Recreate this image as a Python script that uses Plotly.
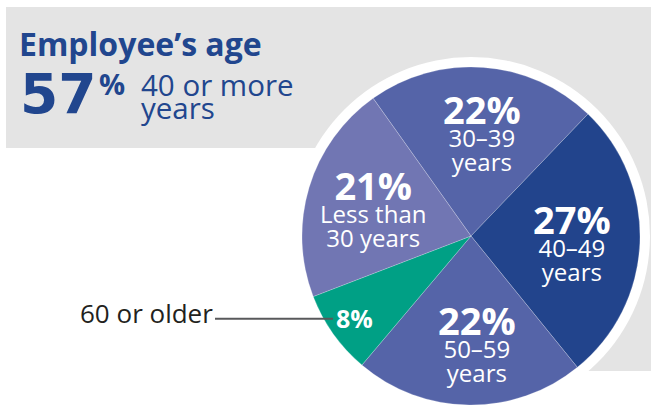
import math
import plotly.graph_objects as go

# ---- data ----
slice_labels = ["30–39 years", "40–49 years", "50–59 years", "60 or older", "Less than 30 years"]
slice_values = [22, 27, 22, 8, 21]
pct_text = ["22%", "27%", "22%", "8%", "21%"]
line1_text = ["30–39", "40–49", "50–59", "", "Less than"]
line2_text = ["years", "years", "years", "", "30 years"]
outside_label = "60 or older"
title_text = "Employee’s age"
headline_pct = "57"
headline_text = ["40 or more", "years"]

# ---- styles ----
W, H = 651, 406
FONT = "Open Sans"
NAVY = "#21468e"
slice_colors = ["#5564a8", "#22448c", "#5564a8", "#00a085", "#7176b3"]
CX, CY, R = 471, 236, 169      # pie centre / radius in pixels
RING = 179                     # white ring radius
ROTATION = -35.4
label_rfrac = [0.613, 0.599, 0.64, 0.844, 0.603]
label_nudge = [1.9, 1.0, -3.8, 0.0, -0.9]


def px(x):
    return x / W


def py(y):
    return 1 - y / H


fig = go.Figure()
fig.add_trace(go.Pie(
    labels=slice_labels, values=slice_values, sort=False, direction="clockwise",
    rotation=ROTATION, textinfo="none", hoverinfo="label+percent",
    marker=dict(colors=slice_colors, line=dict(color="rgba(255,255,255,0.35)", width=0.6)),
    domain=dict(x=[px(CX - R), px(CX + R)], y=[py(CY + R), py(CY - R)]),
))

shapes = [
    dict(type="rect", xref="paper", yref="paper", x0=px(6), x1=px(651), y0=py(148), y1=py(7),
         fillcolor="#e4e4e4", line_width=0, layer="below"),
    dict(type="rect", xref="paper", yref="paper", x0=px(CX), x1=px(651), y0=py(371), y1=py(7),
         fillcolor="#e4e4e4", line_width=0, layer="below"),
    dict(type="circle", xref="paper", yref="paper", x0=px(CX - RING), x1=px(CX + RING),
         y0=py(CY + RING), y1=py(CY - RING), fillcolor="white", line_width=0, layer="below"),
]

annotations = []
# slice labels positioned along each slice bisector
total = sum(slice_values)
start = ROTATION
leader_y = CY
for i, v in enumerate(slice_values):
    span = 360 * v / total
    mid = math.radians(start + span / 2 + label_nudge[i])
    start += span
    lx = CX + label_rfrac[i] * R * math.sin(mid)
    ly = CY - label_rfrac[i] * R * math.cos(mid)
    if line1_text[i]:
        txt = ("<b><span style='font-size:38px'>%s</span></b><br>"
               "<span style='font-size:24px'>%s</span><br>"
               "<span style='font-size:24px'>%s</span>") % (pct_text[i], line1_text[i], line2_text[i])
        annotations.append(dict(x=px(lx), y=py(ly - 2), text=txt,
                                font=dict(family=FONT, size=18, color="white")))
    else:
        annotations.append(dict(x=px(lx), y=py(ly - 1), text="<b>%s</b>" % pct_text[i],
                                font=dict(family=FONT, size=25, color="white")))
        leader_y = ly
for a in annotations:
    a.update(xref="paper", yref="paper", showarrow=False, xanchor="center", yanchor="middle")

# outside label + leader line
annotations.append(dict(xref="paper", yref="paper", x=px(215), y=py(leader_y - 6), text=outside_label,
                        showarrow=False, xanchor="right", yanchor="middle",
                        font=dict(family=FONT, size=26, color="#231f20")))
shapes.append(dict(type="line", xref="paper", yref="paper", x0=px(215), x1=px(333),
                   y0=py(leader_y), y1=py(leader_y), line=dict(color="#58595b", width=2)))

# headline block
headline_lines = "<br>".join("<span style='font-size:29.5px'>%s</span>" % t for t in headline_text)
annotations += [
    dict(xref="paper", yref="paper", x=px(17), y=py(43), text="<b>%s</b>" % title_text,
         showarrow=False, xanchor="left", yanchor="middle",
         font=dict(family=FONT, size=32, color=NAVY)),
    dict(xref="paper", yref="paper", x=px(18), y=py(94), text="<b>%s</b>" % headline_pct,
         showarrow=False, xanchor="left", yanchor="middle",
         font=dict(family="DejaVu Sans", size=55, color=NAVY)),
    dict(xref="paper", yref="paper", x=px(97), y=py(84), text="<b>%</b>",
         showarrow=False, xanchor="left", yanchor="middle",
         font=dict(family=FONT, size=29, color=NAVY)),
    dict(xref="paper", yref="paper", x=px(139), y=py(96), text=headline_lines,
         showarrow=False, xanchor="left", yanchor="middle", align="left",
         font=dict(family=FONT, size=17.7, color=NAVY)),
]

fig.update_layout(width=W, height=H, margin=dict(l=0, r=0, t=0, b=0),
                  paper_bgcolor="white", plot_bgcolor="white", showlegend=False,
                  shapes=shapes, annotations=annotations)
fig.write_html("out.html", config={"displayModeBar": False},
               post_script="document.body.style.margin='0';document.body.style.overflow='hidden';")
